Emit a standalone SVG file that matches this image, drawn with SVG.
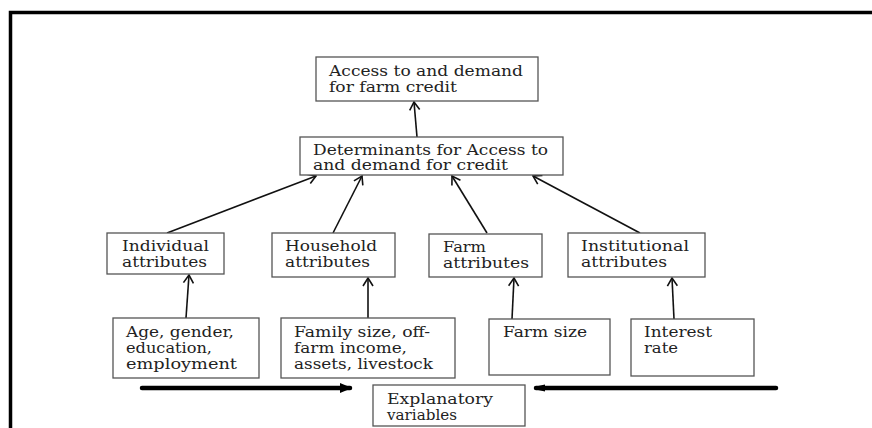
<svg xmlns="http://www.w3.org/2000/svg" width="872" height="428" viewBox="0 0 872 428">
<defs>
<style>
.box{fill:#fff;stroke:#555;stroke-width:1.3}
.t{font-family:"DejaVu Serif","Liberation Serif",serif;font-size:14px;fill:#222}
.c{stroke:#111;stroke-width:1.6;fill:none}
.thick{stroke:#000;stroke-width:4.5;fill:none;stroke-linecap:round}
</style>
<marker id="open" viewBox="0 0 10 12" refX="9" refY="6" markerWidth="10" markerHeight="12" markerUnits="userSpaceOnUse" orient="auto">
<path d="M1,1 L9,6 L1,11" fill="none" stroke="#111" stroke-width="1.6"/>
</marker>
<marker id="solid" viewBox="0 0 12 12" refX="10" refY="6" markerWidth="12" markerHeight="12" markerUnits="userSpaceOnUse" orient="auto">
<path d="M0,1 L12,6 L0,11 Z" fill="#000"/>
</marker>
<marker id="round" viewBox="0 0 12 12" refX="9" refY="6" markerWidth="12" markerHeight="12" markerUnits="userSpaceOnUse" orient="auto">
<path d="M0,2.5 L9,4.5 A1.6,1.6 0 0 1 9,7.5 L0,9.5 Z" fill="#000"/>
</marker>
</defs>
<rect width="872" height="428" fill="#fff"/>
<path d="M10.5,440 L10.5,12.5 L890,12.5" fill="none" stroke="#000" stroke-width="3.5"/>

<g id="connectors">
<line class="c" x1="417" y1="137" x2="414" y2="102" marker-end="url(#open)"/>
<line class="c" x1="167" y1="233" x2="316" y2="176" marker-end="url(#open)"/>
<line class="c" x1="333" y1="233" x2="362" y2="176" marker-end="url(#open)"/>
<line class="c" x1="487" y1="233" x2="452" y2="176" marker-end="url(#open)"/>
<line class="c" x1="640" y1="233" x2="533" y2="176" marker-end="url(#open)"/>
<line class="c" x1="186" y1="318" x2="189" y2="275" marker-end="url(#open)"/>
<line class="c" x1="368" y1="318" x2="368" y2="278" marker-end="url(#open)"/>
<line class="c" x1="512" y1="319" x2="514" y2="278" marker-end="url(#open)"/>
<line class="c" x1="674" y1="319" x2="672" y2="278" marker-end="url(#open)"/>
<line class="thick" x1="142" y1="388" x2="350" y2="388" marker-end="url(#solid)"/>
<line class="thick" x1="776" y1="388" x2="536" y2="388" marker-end="url(#round)"/>
</g>

<g id="n-top">
<rect class="box" x="316" y="57" width="222" height="44"/>
<text class="t" x="329" y="76" textLength="194" lengthAdjust="spacingAndGlyphs">Access to and demand</text>
<text class="t" x="329" y="92" textLength="128" lengthAdjust="spacingAndGlyphs">for farm credit</text>
</g>
<g id="n-det">
<rect class="box" x="300" y="137" width="263" height="38"/>
<text class="t" x="313" y="155" textLength="235" lengthAdjust="spacingAndGlyphs">Determinants for Access to</text>
<text class="t" x="313" y="170" textLength="195" lengthAdjust="spacingAndGlyphs">and demand for credit</text>
</g>
<g id="n-ind">
<rect class="box" x="107" y="233" width="117" height="41"/>
<text class="t" x="122" y="251" textLength="87" lengthAdjust="spacingAndGlyphs">Individual</text>
<text class="t" x="122" y="267" textLength="85" lengthAdjust="spacingAndGlyphs">attributes</text>
</g>
<g id="n-hh">
<rect class="box" x="272" y="233" width="123" height="44"/>
<text class="t" x="285" y="251" textLength="92" lengthAdjust="spacingAndGlyphs">Household</text>
<text class="t" x="285" y="267" textLength="85" lengthAdjust="spacingAndGlyphs">attributes</text>
</g>
<g id="n-farm">
<rect class="box" x="429" y="234" width="113" height="43"/>
<text class="t" x="443" y="252" textLength="43" lengthAdjust="spacingAndGlyphs">Farm</text>
<text class="t" x="443" y="268" textLength="86" lengthAdjust="spacingAndGlyphs">attributes</text>
</g>
<g id="n-inst">
<rect class="box" x="568" y="233" width="137" height="44"/>
<text class="t" x="581" y="251" textLength="108" lengthAdjust="spacingAndGlyphs">Institutional</text>
<text class="t" x="581" y="267" textLength="86" lengthAdjust="spacingAndGlyphs">attributes</text>
</g>
<g id="n-age">
<rect class="box" x="113" y="318" width="146" height="60"/>
<text class="t" x="126" y="337" textLength="108" lengthAdjust="spacingAndGlyphs">Age, gender,</text>
<text class="t" x="126" y="353" textLength="86" lengthAdjust="spacingAndGlyphs">education,</text>
<text class="t" x="126" y="369" textLength="111" lengthAdjust="spacingAndGlyphs">employment</text>
</g>
<g id="n-family">
<rect class="box" x="281" y="318" width="174" height="60"/>
<text class="t" x="294" y="337" textLength="136" lengthAdjust="spacingAndGlyphs">Family size, off-</text>
<text class="t" x="294" y="353" textLength="113" lengthAdjust="spacingAndGlyphs">farm income,</text>
<text class="t" x="294" y="369" textLength="139" lengthAdjust="spacingAndGlyphs">assets, livestock</text>
</g>
<g id="n-farmsize">
<rect class="box" x="489" y="319" width="121" height="56"/>
<text class="t" x="503" y="337" textLength="84" lengthAdjust="spacingAndGlyphs">Farm size</text>
</g>
<g id="n-interest">
<rect class="box" x="631" y="319" width="123" height="57"/>
<text class="t" x="644" y="337" textLength="68" lengthAdjust="spacingAndGlyphs">Interest</text>
<text class="t" x="644" y="353" textLength="34" lengthAdjust="spacingAndGlyphs">rate</text>
</g>
<g id="n-expl">
<rect class="box" x="373" y="385" width="152" height="41"/>
<text class="t" x="387" y="404" textLength="106" lengthAdjust="spacingAndGlyphs">Explanatory</text>
<text class="t" x="387" y="420" textLength="70" lengthAdjust="spacingAndGlyphs">variables</text>
</g>
</svg>
